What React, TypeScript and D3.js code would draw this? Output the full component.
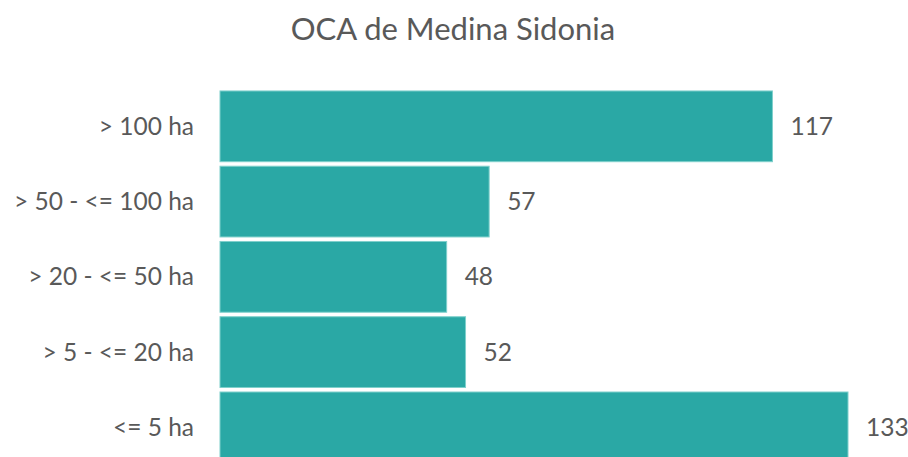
import React, { useEffect } from "react";
import * as d3 from "d3";

const categories = ["> 100 ha", "> 50 - <= 100 ha", "> 20 - <= 50 ha", "> 5 - <= 20 ha", "<= 5 ha"];
const values = [117, 57, 48, 52, 133];
const title = "OCA de Medina Sidonia";

const W = 908;
const H = 457;

export default function App() {
  useEffect(() => {
    document.body.style.margin = "0";
  }, []);

  const x = d3.scaleLinear().domain([0, 133]).range([220, 848]);
  const y = d3.scaleBand<string>().domain(categories).range([88.7, 465]).paddingInner(0.06).paddingOuter(0.03);
  const font = "Lato, 'Open Sans', 'Liberation Sans', sans-serif";

  return (
    <svg width={W} height={H} style={{ display: "block" }} fontFamily={font}>
      <rect width={W} height={H} fill="#ffffff" />
      <text x={453} y={40} textAnchor="middle" fontSize={31} fill="#595959">
        {title}
      </text>
      {categories.map((c, i) => {
        const y0 = y(c)!;
        const bh = y.bandwidth();
        return (
          <g key={c}>
            <rect
              x={x(0)}
              y={y0}
              width={x(values[i]) - x(0)}
              height={bh}
              fill="#2AA8A5"
              stroke="#7fd0cc"
              strokeWidth={1}
            />
            <text x={194} y={y0 + bh / 2} dy="0.35em" textAnchor="end" fontSize={24.5} fill="#595959">
              {c}
            </text>
            <text x={x(values[i]) + 18} y={y0 + bh / 2} dy="0.35em" textAnchor="start" fontSize={24.5} fill="#595959">
              {values[i]}
            </text>
          </g>
        );
      })}
    </svg>
  );
}
